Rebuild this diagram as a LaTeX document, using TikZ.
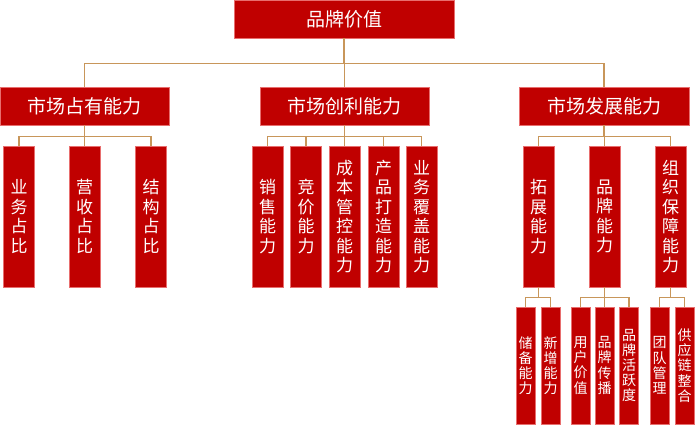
\documentclass[tikz,border=0pt]{standalone}
\usepackage{fontspec}
\newfontfamily\cjk{Noto Sans CJK SC}
\usepackage{xcolor}
\definecolor{brandred}{RGB}{192,0,0}
\definecolor{edgered}{RGB}{232,110,110}
\definecolor{linktan}{RGB}{200,150,90}
\tikzset{
  redbox/.style={fill=brandred,draw=edgered,line width=.6pt,text=white,inner sep=0pt,align=center},
  headbox/.style={redbox,minimum width=220,minimum height=38,font=\cjk\fontsize{19}{22}\selectfont},
  groupbox/.style={redbox,minimum width=169,minimum height=38,font=\cjk\fontsize{19}{22}\selectfont},
  itembox/.style={redbox,minimum width=31,minimum height=141,font=\cjk\fontsize{17}{19.5}\selectfont},
  subbox/.style={redbox,minimum width=19,minimum height=117,font=\cjk\fontsize{14}{15.2}\selectfont},
  link/.style={draw=linktan,line width=1.1pt}
}
\begin{document}
\begin{tikzpicture}[x=1pt,y=-1pt]
  \useasboundingbox (0,0) rectangle (700,424);
  % top
  \node[headbox] (root) at (344,19) {品牌价值};
  % groups
  \node[groupbox] (ma) at (84.5,106) {市场占有能力};
  \node[groupbox] (mb) at (344.5,106) {市场创利能力};
  \node[groupbox,minimum width=170] (mc) at (604,106) {市场发展能力};
  % items
  \node[itembox] (a1) at (19,216.5) {业\\务\\占\\比};
  \node[itembox] (a2) at (84.5,216.5) {营\\收\\占\\比};
  \node[itembox] (a3) at (151,216.5) {结\\构\\占\\比};
  \node[itembox] (b1) at (267.5,216.5) {销\\售\\能\\力};
  \node[itembox] (b2) at (306,216.5) {竞\\价\\能\\力};
  \node[itembox] (b3) at (344.5,216.5) {成\\本\\管\\控\\能\\力};
  \node[itembox] (b4) at (383.5,216.5) {产\\品\\打\\造\\能\\力};
  \node[itembox] (b5) at (421.5,216.5) {业\\务\\覆\\盖\\能\\力};
  \node[itembox] (c1) at (538.5,216.5) {拓\\展\\能\\力};
  \node[itembox] (c2) at (604.5,216.5) {品\\牌\\能\\力};
  \node[itembox] (c3) at (670.5,216.5) {组\\织\\保\\障\\能\\力};
  % sub items
  \node[subbox] (d1) at (525.5,365.5) {储\\备\\能\\力};
  \node[subbox] (d2) at (550.5,365.5) {新\\增\\能\\力};
  \node[subbox] (e1) at (580.5,365.5) {用\\户\\价\\值};
  \node[subbox] (e2) at (604.5,365.5) {品\\牌\\传\\播};
  \node[subbox] (e3) at (629,365.5) {品\\牌\\活\\跃\\度};
  \node[subbox] (f1) at (659.5,365.5) {团\\队\\管\\理};
  \node[subbox] (f2) at (684.5,365.5) {供\\应\\链\\整\\合};
  % connectors
  \foreach \m in {ma,mb,mc}
    \draw[link] (root.south) -- ++(0,25) -| (\m.north);
  \foreach \c in {a1,a2,a3}
    \draw[link] (ma.south) -- ++(0,11) -| (\c.north);
  \foreach \c in {b1,b2,b3,b4,b5}
    \draw[link] (mb.south) -- ++(0,11) -| (\c.north);
  \foreach \c in {c1,c2,c3}
    \draw[link] (mc.south) -- ++(0,11) -| (\c.north);
  \foreach \c in {d1,d2}
    \draw[link] (c1.south) -- ++(0,10) -| (\c.north);
  \foreach \c in {e1,e2,e3}
    \draw[link] (c2.south) -- ++(0,10) -| (\c.north);
  \foreach \c in {f1,f2}
    \draw[link] (c3.south) -- ++(0,10) -| (\c.north);
\end{tikzpicture}
\end{document}
